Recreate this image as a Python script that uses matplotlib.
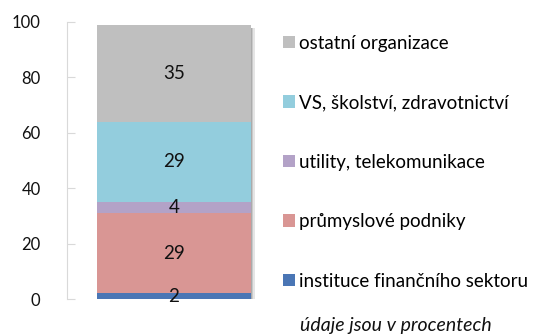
import matplotlib
matplotlib.use("Agg")
import matplotlib.pyplot as plt
from matplotlib.patches import Patch

plt.rcParams['font.family'] = ['Lato', 'DejaVu Sans']

# sector shares, bottom to top
sectors = ['instituce finančního sektoru', 'průmyslové podniky',
           'utility, telekomunikace', 'VS, školství, zdravotnictví',
           'ostatní organizace']
shares = [2, 29, 4, 29, 35]
colors = ['#4a76b5', '#d99694', '#b3a2c7', '#93cddd', '#bfbfbf']

fig = plt.figure(figsize=(5.44, 3.36), dpi=100)
ax = fig.add_axes([67 / 544, 37 / 336, 213 / 544, 277 / 336])

xpos = 0.502
width = 0.723
bottom = 0
for val, col in zip(shares, colors):
    ax.bar(xpos, val, width=width, bottom=bottom, color=col, zorder=3)
    ax.text(xpos, bottom + val / 2, str(val), ha='center', va='center',
            fontsize=13.5, color='#111111', zorder=4)
    bottom += val

# soft shadow on the right of the column
for k, a in [(0.018, 0.10), (0.012, 0.12), (0.006, 0.15)]:
    ax.bar(xpos + k, bottom, width=width, bottom=-1.0, color='black',
           alpha=a, zorder=2, linewidth=0)

ax.set_xlim(0, 1)
ax.set_ylim(0, 100)
ax.set_yticks(range(0, 101, 20))
ax.set_xticks([])
for s in ['top', 'right', 'bottom']:
    ax.spines[s].set_visible(False)
ax.spines['left'].set_color('#d9d9d9')
ax.tick_params(axis='y', direction='in', length=6, color='#d9d9d9',
               labelsize=12, pad=19, labelcolor='#111111')

handles = [Patch(facecolor=c) for c in colors[::-1]]
fig.legend(handles, sectors[::-1], loc='upper left',
           bbox_to_anchor=(275 / 544, 1 - 27 / 336), frameon=False,
           fontsize=13.5, handlelength=0.65, handleheight=0.65,
           handletextpad=0.25, labelspacing=2.27, borderaxespad=0)

fig.text(300 / 544, 1 - 326 / 336, 'údaje jsou v procentech',
         fontsize=14, style='italic', va='center', ha='left',
         color='#111111')

fig.savefig('out.png', dpi=100)
